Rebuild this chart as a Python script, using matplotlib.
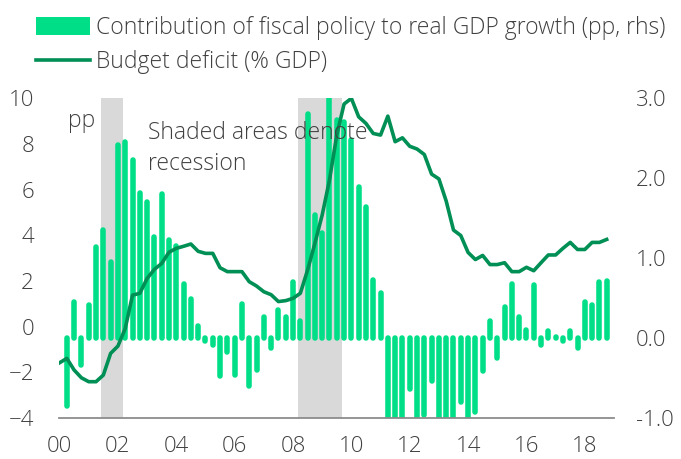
import matplotlib
matplotlib.use("Agg")
import matplotlib.pyplot as plt
from matplotlib.patches import Patch
from matplotlib.lines import Line2D
import numpy as np
import pandas as pd

# Quarterly dates, 2000Q1 - 2018Q4
quarters = pd.period_range("2000Q1", "2018Q4", freq="Q")

# Budget deficit (% GDP), lhs, one value per quarter
budget_deficit = [
    -1.58, -1.39, -1.90, -2.24, -2.41, -2.41, -2.12, -1.17, -0.85, -0.08,
    1.38, 1.46, 2.11, 2.51, 2.77, 3.26, 3.43, 3.52, 3.62, 3.30,
    3.21, 3.21, 2.58, 2.41, 2.41, 2.41, 1.97, 1.78, 1.53, 1.40,
    1.10, 1.14, 1.24, 1.46, 2.48, 3.65, 4.89, 6.42, 8.39, 9.75,
    10.0, 9.19, 8.90, 8.46, 8.39, 9.22, 8.10, 8.27, 7.90, 7.78,
    7.54, 6.68, 6.47, 5.50, 4.23, 3.99, 3.25, 2.94, 3.12, 2.72,
    2.72, 2.80, 2.41, 2.41, 2.60, 2.45, 2.80, 3.14, 3.14, 3.43,
    3.69, 3.38, 3.38, 3.69, 3.69, 3.82,
]

# Contribution of fiscal policy to real GDP growth (pp, rhs), 2000Q2 - 2018Q4
fiscal_contribution = [
    -0.85, 0.45, -0.34, 0.42, 1.14, 1.35, 0.95, 2.41, 2.45, 2.23,
    1.81, 1.70, 1.27, 1.80, 1.23, 1.15, 0.68, 0.49, 0.15, -0.04,
    -0.09, -0.48, -0.17, -0.46, 0.43, -0.60, -0.40, 0.26, -0.13, 0.35,
    0.26, 0.70, 0.21, 2.81, 1.54, 1.31, 3.30, 2.73, 2.70, 2.48,
    1.89, 1.64, 0.73, 0.56, -1.25, -1.20, -1.30, -0.64, -1.15, -0.96,
    -0.54, -1.20, -1.10, -1.25, -0.80, -1.10, -0.92, -0.41, 0.21, -0.25,
    0.39, 0.68, 0.27, 0.10, 0.67, -0.09, 0.09, 0.01, -0.04, 0.09,
    -0.12, 0.45, 0.42, 0.70, 0.72,
]

# Recession periods (decimal years, as shaded in the chart)
recessions = [(2001.43, 2002.17), (2008.17, 2009.68)]

tick_years = [2000, 2002, 2004, 2006, 2008, 2010, 2012, 2014, 2016, 2018]
tick_labels = ["00", "02", "04", "06", "08", "10", "12", "14", "16", "18"]

BAR_COLOR = "#00de87"
LINE_COLOR = "#008f55"
TEXT_COLOR = "#404040"
FONT = "Open Sans"
FS = 16.5
TICK_FS = 16

plt.rcParams["font.family"] = [FONT, "DejaVu Sans"]
plt.rcParams["font.weight"] = "light"

x = np.array([q.year + (q.quarter - 1) / 4 for q in quarters])

fig = plt.figure(figsize=(6.81, 4.59), dpi=100)
# bars live on ax (ticks shown right), line on ax_line (ticks shown left) so it draws on top
ax = fig.add_axes([0.0866, 0.0893, 0.815, 0.6965])
ax_line = ax.twinx()

for start, end in recessions:
    ax.axvspan(start, end, color="#d9d9d9", lw=0, zorder=0)

# bars drawn as thick strokes with round caps, like the original
ax.vlines(x[1:], 0, fiscal_contribution, colors=BAR_COLOR, lw=4.0,
          capstyle="round", zorder=2)
ax.set_ylim(-1, 3)
ax.set_yticks([-1, 0, 1, 2, 3])
ax.set_yticklabels([f"{v:.1f}" for v in [-1, 0, 1, 2, 3]])
ax.yaxis.tick_right()

ax_line.plot(x, budget_deficit, color=LINE_COLOR, lw=2.6, solid_joinstyle="round", zorder=3)
ax_line.set_ylim(-4, 10)
ax_line.set_yticks(range(-4, 11, 2))
ax_line.yaxis.tick_left()

ax.set_xlim(1999.98, 2019.0)
ax.set_xticks(tick_years)
ax.set_xticklabels(tick_labels)

for a in (ax, ax_line):
    for side in ("top", "left", "right", "bottom"):
        a.spines[side].set_visible(False)
    a.tick_params(length=0, labelsize=TICK_FS, labelcolor=TEXT_COLOR)
ax.spines["bottom"].set_visible(True)
ax.spines["bottom"].set_color("#8c8c8c")
ax.spines["bottom"].set_linewidth(1.3)
ax.spines["bottom"].set_zorder(5)
ax.tick_params(axis="x", pad=13)
ax.tick_params(axis="y", pad=16)
ax_line.tick_params(axis="y", pad=18)

ax_line.text(2000.3, 8.75, "pp", fontsize=FS, color=TEXT_COLOR, va="baseline")
ax_line.text(2003.04, 8.21, "Shaded areas denote", fontsize=FS,
             color=TEXT_COLOR, va="baseline")
ax_line.text(2003.04, 6.88, "recession", fontsize=FS,
             color=TEXT_COLOR, va="baseline")

handles = [
    Patch(facecolor=BAR_COLOR, edgecolor="none"),
    Line2D([0], [0], color=LINE_COLOR, lw=2.6),
]
labels = [
    "Contribution of fiscal policy to real GDP growth (pp, rhs)",
    "Budget deficit (% GDP)",
]
fig.legend(handles, labels, loc="upper left", bbox_to_anchor=(0.053, 0.965),
           frameon=False, fontsize=FS, labelcolor=TEXT_COLOR,
           handlelength=2.35, handleheight=0.8, handletextpad=0.25,
           labelspacing=0.45, borderpad=0, borderaxespad=0)

fig.savefig("out.png", dpi=100)
